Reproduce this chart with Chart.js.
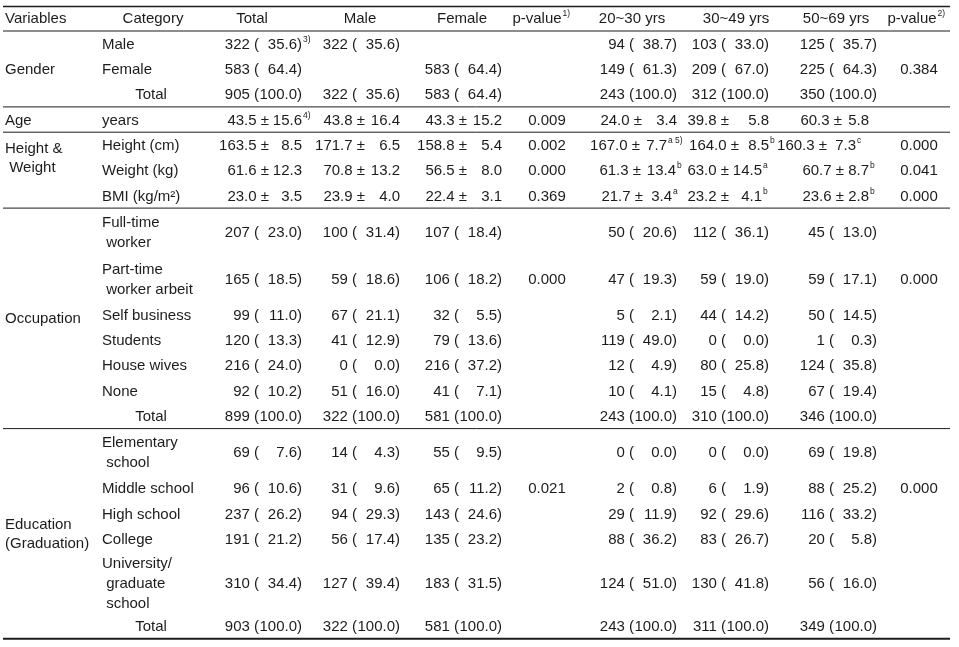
<!DOCTYPE html>
<html>
<head>
<meta charset="utf-8">
<script src="https://cdn.jsdelivr.net/npm/chart.js@4.4.1/dist/chart.umd.min.js"></script>
<style>
  html, body { margin: 0; padding: 0; background: #fff; }
  #wrap { width: 959px; height: 647px; }
</style>
</head>
<body>
<div id="wrap"><canvas id="tabla"></canvas></div>
<script>
// --- DATOS ---
// columnas de valores: Total, Male, Female, 20~30, 30~49, 50~69
const valueHeaders = ['Total', 'Male', 'Female', '20~30 yrs', '30~49 yrs', '50~69 yrs'];
const pHeaders = ['p-value', 'p-value'];
const pHeaderNotes = ['1)', '2)'];

// Gender: n (%)
const genderCategories = ['Male', 'Female', 'Total'];
const genderValues = [
  [[322, 35.6], [322, 35.6], null, [94, 38.7], [103, 33.0], [125, 35.7]],
  [[583, 64.4], null, [583, 64.4], [149, 61.3], [209, 67.0], [225, 64.3]],
  [[905, 100.0], [322, 35.6], [583, 64.4], [243, 100.0], [312, 100.0], [350, 100.0]]
];
const genderPSex = [null, null, null];
const genderPAge = [null, 0.384, null];
const genderMarks = [['3)'], [], []];

// Age: mean ± SD
const ageCategories = ['years'];
const ageValues = [
  [[43.5, 15.6], [43.8, 16.4], [43.3, 15.2], [24.0, 3.4], [39.8, 5.8], [60.3, 5.8]]
];
const agePSex = [0.009];
const agePAge = [null];
const ageMarks = [['4)']];

// Height & Weight: mean ± SD
const bodyCategories = ['Height (cm)', 'Weight (kg)', 'BMI (kg/m²)'];
const bodyValues = [
  [[163.5, 8.5], [171.7, 6.5], [158.8, 5.4], [167.0, 7.7], [164.0, 8.5], [160.3, 7.3]],
  [[61.6, 12.3], [70.8, 13.2], [56.5, 8.0], [61.3, 13.4], [63.0, 14.5], [60.7, 8.7]],
  [[23.0, 3.5], [23.9, 4.0], [22.4, 3.1], [21.7, 3.4], [23.2, 4.1], [23.6, 2.8]]
];
const bodyPSex = [0.002, 0.000, 0.369];
const bodyPAge = [0.000, 0.041, 0.000];
const bodyMarks = [
  [null, null, null, 'a 5)', 'b', 'c'],
  [null, null, null, 'b', 'a', 'b'],
  [null, null, null, 'a', 'b', 'b']
];

// Occupation: n (%)
const jobCategories = ['Full-time\n worker', 'Part-time\n worker arbeit', 'Self business',
  'Students', 'House wives', 'None', 'Total'];
const jobValues = [
  [[207, 23.0], [100, 31.4], [107, 18.4], [50, 20.6], [112, 36.1], [45, 13.0]],
  [[165, 18.5], [59, 18.6], [106, 18.2], [47, 19.3], [59, 19.0], [59, 17.1]],
  [[99, 11.0], [67, 21.1], [32, 5.5], [5, 2.1], [44, 14.2], [50, 14.5]],
  [[120, 13.3], [41, 12.9], [79, 13.6], [119, 49.0], [0, 0.0], [1, 0.3]],
  [[216, 24.0], [0, 0.0], [216, 37.2], [12, 4.9], [80, 25.8], [124, 35.8]],
  [[92, 10.2], [51, 16.0], [41, 7.1], [10, 4.1], [15, 4.8], [67, 19.4]],
  [[899, 100.0], [322, 100.0], [581, 100.0], [243, 100.0], [310, 100.0], [346, 100.0]]
];
const jobPSex = [null, 0.000, null, null, null, null, null];
const jobPAge = [null, 0.000, null, null, null, null, null];

// Education: n (%)
const eduCategories = ['Elementary\n school', 'Middle school', 'High school', 'College',
  'University/\n graduate\n school', 'Total'];
const eduValues = [
  [[69, 7.6], [14, 4.3], [55, 9.5], [0, 0.0], [0, 0.0], [69, 19.8]],
  [[96, 10.6], [31, 9.6], [65, 11.2], [2, 0.8], [6, 1.9], [88, 25.2]],
  [[237, 26.2], [94, 29.3], [143, 24.6], [29, 11.9], [92, 29.6], [116, 33.2]],
  [[191, 21.2], [56, 17.4], [135, 23.2], [88, 36.2], [83, 26.7], [20, 5.8]],
  [[310, 34.4], [127, 39.4], [183, 31.5], [124, 51.0], [130, 41.8], [56, 16.0]],
  [[903, 100.0], [322, 100.0], [581, 100.0], [243, 100.0], [311, 100.0], [349, 100.0]]
];
const eduPSex = [null, 0.021, null, null, null, null];
const eduPAge = [null, 0.000, null, null, null, null];

// --- MAQUETACIÓN (unidades de escala = px) ---
const FONT = '"Liberation Sans", Arial, sans-serif';
const INK = '#1c1c1c';
const L = {
  top: 6.5, headerH: 24.5, rowH: [0, 25.3, 47, 62], lineGap: 20, drop: 1,
  ruleFrom: 3, ruleTo: 950,
  fontSize: 15, supSize: 8.5, supRise: 5,
  varX: 5, catX: 102, catTotalX: 151, catHeadX: 153,
  valueHeadX: [252, 360, 462, 632, 736, 836],
  countX: [[259, 302], [357, 400], [459, 502], [634, 677], [726, 769], [834, 877]],
  meanX: [[269, 302], [365, 400], [467, 502], [642, 677], [729, 769], [842, 869]],
  pX: [547, 919], pHeadX: [537, 912]
};
// ajustes finos de las celdas con letras de superíndice (Height & Weight)
const bodyMeanX = [
  [null, null, null, [640, 667], [739, 769], [827, 856]],
  [null, null, null, [641, 676], [729, 762], [844, 869]],
  [null, null, null, [643, 672], [729, 762], [844, 869]]
];

const sections = [
  { label: ['Gender'], kind: 'count', cats: genderCategories, vals: genderValues, p1: genderPSex, p2: genderPAge, marks: genderMarks },
  { label: ['Age'], kind: 'mean', cats: ageCategories, vals: ageValues, p1: agePSex, p2: agePAge, marks: ageMarks },
  { label: ['Height &', ' Weight'], labelRows: [0, 1], kind: 'mean', cats: bodyCategories, vals: bodyValues, p1: bodyPSex, p2: bodyPAge, marks: bodyMarks, xFix: bodyMeanX },
  { label: ['Occupation'], kind: 'count', cats: jobCategories, vals: jobValues, p1: jobPSex, p2: jobPAge },
  { label: ['Education', '(Graduation)'], kind: 'count', cats: eduCategories, vals: eduValues, p1: eduPSex, p2: eduPAge }
];

const tablePlugin = {
  id: 'tabla',
  afterDraw(chart) {
    const { ctx, scales: { x, y } } = chart;
    const px = v => x.getPixelForValue(v);
    const py = v => y.getPixelForValue(v);
    ctx.save();
    ctx.fillStyle = INK;
    ctx.strokeStyle = INK;
    ctx.textBaseline = 'middle';

    const rule = (v, w) => {
      ctx.lineWidth = w;
      ctx.beginPath();
      ctx.moveTo(px(L.ruleFrom), py(v));
      ctx.lineTo(px(L.ruleTo), py(v));
      ctx.stroke();
    };
    const write = (s, xv, yv, align = 'left', size = L.fontSize) => {
      ctx.font = `${size}px ${FONT}`;
      ctx.textAlign = align;
      ctx.fillText(s, px(xv), py(yv));
      return ctx.measureText(s).width;
    };
    const sup = (s, xv, yv) => write(s, xv, yv - L.supRise, 'left', L.supSize);

    // cabecera
    rule(L.top, 1.5);
    const hy = L.top + L.headerH / 2;
    write('Variables', L.varX, hy);
    write('Category', L.catHeadX, hy, 'center');
    valueHeaders.forEach((h, i) => write(h, L.valueHeadX[i], hy, 'center'));
    pHeaders.forEach((h, i) => {
      const w = write(h, L.pHeadX[i], hy, 'center');
      sup(pHeaderNotes[i], L.pHeadX[i] + w / 2 + 1, hy);
    });
    let cursor = L.top + L.headerH;
    rule(cursor, 1.2);

    // secciones
    sections.forEach((sec, si) => {
      const secTop = cursor;
      const centers = [];
      sec.cats.forEach((cat, r) => {
        const lines = cat.split('\n');
        const h = L.rowH[lines.length];
        const cy = cursor + h / 2 + L.drop;
        centers.push(cy);

        // categoría
        if (cat === 'Total') {
          write(cat, L.catTotalX, cy, 'center');
        } else {
          lines.forEach((ln, k) => write(ln, L.catX, cy + (k - (lines.length - 1) / 2) * L.lineGap));
        }

        // valores
        sec.vals[r].forEach((cell, c) => {
          if (!cell) return;
          let endX;
          if (sec.kind === 'count') {
            write(`${cell[0]} (`, L.countX[c][0], cy, 'right');
            write(`${cell[1].toFixed(1)})`, L.countX[c][1], cy, 'right');
            endX = L.countX[c][1];
          } else {
            const mx = (sec.xFix && sec.xFix[r][c]) || L.meanX[c];
            write(`${cell[0].toFixed(1)} ±`, mx[0], cy, 'right');
            write(cell[1].toFixed(1), mx[1], cy, 'right');
            endX = mx[1];
          }
          const mark = sec.marks && sec.marks[r] && sec.marks[r][c];
          if (mark) sup(mark, endX + 1, cy);
        });

        // p-valores
        [sec.p1[r], sec.p2[r]].forEach((p, k) => {
          if (p !== null && p !== undefined) write(p.toFixed(3), L.pX[k], cy, 'center');
        });
        cursor += h;
      });

      // etiqueta de la variable
      let ly;
      if (sec.labelRows) ly = (centers[sec.labelRows[0]] + centers[sec.labelRows[1]]) / 2;
      else ly = (secTop + cursor) / 2 + L.drop;
      sec.label.forEach((ln, k) => write(ln, L.varX, ly + (k - (sec.label.length - 1) / 2) * L.lineGap * 0.95));

      rule(cursor, si === sections.length - 1 ? 2 : 1);
    });
    ctx.restore();
  }
};

new Chart(document.getElementById('tabla'), {
  type: 'scatter',
  data: { datasets: [] },
  options: {
    responsive: true,
    maintainAspectRatio: false,
    animation: false,
    layout: { padding: 0 },
    plugins: { legend: { display: false }, tooltip: { enabled: false } },
    scales: {
      x: { type: 'linear', display: false, min: 0, max: 959 },
      y: { type: 'linear', display: false, min: 0, max: 647, reverse: true }
    }
  },
  plugins: [tablePlugin]
});
</script>
</body>
</html>
